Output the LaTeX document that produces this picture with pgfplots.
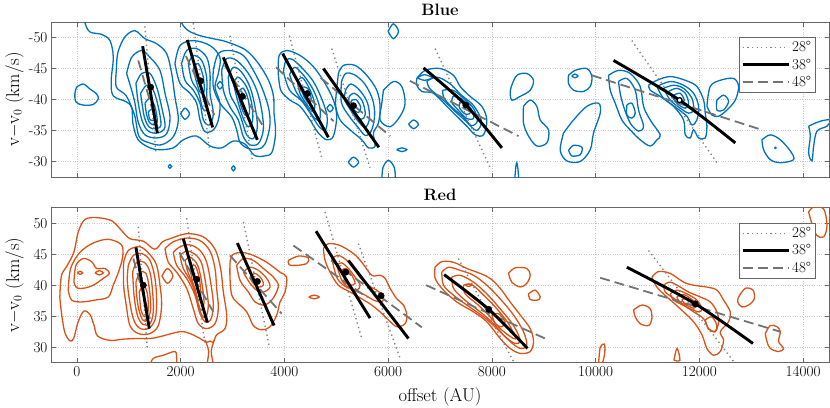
\documentclass[border=0pt]{standalone}
\usepackage{fontspec}
\usepackage{pgfplots}
\pgfplotsset{compat=1.18}
\definecolor{mblue}{rgb}{0,0.447,0.741}
\definecolor{mred}{rgb}{0.85,0.325,0.098}
\definecolor{lgray}{rgb}{0.5,0.5,0.5}
\definecolor{dgray}{rgb}{0.45,0.45,0.45}
\pgfplotsset{
  cB/.style={draw=mblue, line width=1.3pt, smooth, tension=0.55, mark=none},
  cR/.style={draw=mred, line width=1.3pt, smooth, tension=0.55, mark=none},
  dotL/.style={draw=lgray, line width=1.4pt, dash pattern=on 1.3pt off 3.3pt, mark=none},
  solL/.style={draw=black, line width=2.9pt, mark=none},
  dashL/.style={draw=dgray, line width=1.8pt, dash pattern=on 10pt off 5pt, mark=none},
  dotM/.style={only marks, mark=*, mark size=3.2pt, black},
  panel/.style={
    scale only axis, width=778pt, height=155pt,
    xmin=-500, xmax=14500, scaled x ticks=false, scaled y ticks=false,
    xtick={0,2000,4000,6000,8000,10000,12000,14000},
    grid=major, major grid style={dotted, black!22, line width=0.5pt},
    tick align=inside, xtick pos=both, ytick pos=both,
    major tick length=4.5pt, tick style={black!60, line width=0.5pt},
    axis line style={black!60, line width=0.6pt},
    tick label style={font=\fontsize{15.2}{17}\selectfont},
    label style={font=\fontsize{18.5}{20}\selectfont},
    title style={at={(axis description cs:0.5,1)}, anchor=south, yshift=-3pt, font=\bfseries\fontsize{16.5}{18}\selectfont},
    ylabel={v$-$v$_0$ (km/s)},
    ylabel style={at={(axis description cs:-0.0469,0.5)}, anchor=center},
    legend style={at={(axis description cs:0.983,0.903)}, anchor=north east, draw=black!60, fill=white, font=\fontsize{15}{18}\selectfont, cells={anchor=west}, inner sep=2.5pt, row sep=1.5pt},
    legend image code/.code={\draw[##1] (0pt,0pt) -- (46pt,0pt);},
    clip=true,
  }
}
\begin{document}
\begin{tikzpicture}
\useasboundingbox (-51pt,-230pt) rectangle (779pt,177pt);
% ================= TOP : Blue =================
\begin{axis}[panel, at={(0pt,0pt)}, anchor=south west,
  y dir=reverse, ymin=-52.5, ymax=-27.5,
  ytick={-50,-45,-40,-35,-30}, yticklabels={-50,-45,-40,-35,-30},
  xticklabels={}, title={Blue},
  legend entries={28°,38°,48°}]
\addlegendimage{dotL}
\addlegendimage{solL}
\addlegendimage{dashL}
% envelope clumps 1-3
\addplot[cB] coordinates {(154,-54) (154,-52.4) (251,-50.9) (476,-50.5) (637,-49.5) (701,-46.8) (660,-43.0) (700,-40.6) (960,-39.6) (1060,-38.6) (1080,-36.1) (1180,-33.5) (1408,-32.2) (1601,-31.9) (1858,-32.2) (2051,-33.5) (2308,-34.1) (2566,-32.5) (2791,-32.2) (3016,-33.3) (3241,-32.8) (3420,-31.0) (3620,-30.9) (3760,-31.5) (3830,-34.6) (3800,-37.8) (3790,-40.5) (3700,-43.0) (3500,-45.8) (3250,-48.0) (2887,-49.3) (2630,-49.8) (2373,-50.3) (2148,-51.1) (2019,-52.4) (2019,-54)};
% isolated left blob
\addplot[cB] coordinates {(-6,-42) (122,-42.5) (250,-41.7) (379,-40.9) (411,-40.1) (315,-39.2) (122,-39.1) (-19,-39.6) (-39,-41) (-6,-42)};
% clump 1
\addplot[cB] coordinates {(760,-44.7) (790,-47.6) (926,-50.1) (1119,-51.1) (1312,-49.8) (1537,-49.0) (1730,-47.4) (1826,-44.2) (1890,-40.4) (1955,-36.7) (1858,-34.0) (1633,-32.7) (1400,-33.0) (1200,-34.0) (1110,-37.5) (950,-40.6) (760,-42.0) (760,-44.7)};
\addplot[cB] coordinates {(958,-44.2) (1055,-46.8) (1247,-47.9) (1408,-46.8) (1601,-44.7) (1698,-41.0) (1794,-37.2) (1730,-34.5) (1537,-33.8) (1312,-34.3) (1183,-36.3) (1119,-39.4) (1055,-41.5) (958,-44.2)};
\addplot[cB] coordinates {(1138,-42.6) (1247,-44.2) (1408,-44.2) (1537,-42.0) (1633,-38.8) (1698,-35.6) (1560,-34.6) (1376,-34.9) (1260,-36.5) (1183,-39.4) (1138,-42.6)};
\addplot[cB] coordinates {(1228,-41.0) (1344,-42.3) (1472,-41.5) (1569,-38.8) (1620,-35.9) (1520,-35.3) (1400,-35.5) (1299,-37.2) (1228,-41.0)};
\addplot[cB] coordinates {(1312,-39.4) (1408,-40.2) (1505,-38.8) (1550,-36.4) (1480,-35.9) (1400,-36.3) (1344,-37.5) (1312,-39.4)};
\addplot[cB] coordinates {(1376,-38.0) (1453,-38.4) (1505,-36.9) (1455,-36.6) (1400,-36.9) (1376,-38.0)};
\addplot[cB] coordinates {(2000,-37.7) (2083,-38.6) (2170,-37.7) (2083,-36.8) (2000,-37.7)};
% clump 2
\addplot[cB] coordinates {(1890,-45.8) (1987,-48.7) (2244,-49.5) (2566,-48.7) (2758,-46.8) (2726,-44.2) (2662,-42.0) (2758,-39.4) (2726,-36.7) (2630,-35.1) (2469,-34.8) (2373,-36.7) (2308,-39.4) (2180,-41.0) (1987,-42.6) (1890,-45.8)};
\addplot[cB] coordinates {(2019,-45.8) (2115,-47.9) (2308,-48.2) (2501,-46.8) (2566,-44.2) (2566,-41.0) (2630,-37.7) (2553,-35.9) (2437,-36.7) (2373,-39.4) (2244,-41.5) (2083,-43.1) (2019,-45.8)};
\addplot[cB] coordinates {(2148,-45.8) (2244,-47.1) (2405,-46.3) (2501,-43.6) (2501,-40.4) (2501,-38.3) (2424,-38.6) (2340,-41.2) (2212,-43.1) (2148,-45.8)};
\addplot[cB] coordinates {(2244,-45.0) (2340,-45.8) (2437,-43.6) (2450,-41.2) (2373,-41.2) (2296,-43.1) (2244,-45.0)};
\addplot[cB] coordinates {(2700,-42.3) (2758,-42.9) (2815,-42.3) (2758,-41.7) (2700,-42.3)};
% clump 3
\addplot[cB] coordinates {(2630,-44.7) (2726,-47.4) (2951,-47.9) (3209,-47.1) (3401,-44.7) (3562,-42.0) (3691,-38.8) (3723,-36.1) (3659,-33.5) (3560,-32.2) (3340,-32.0) (3150,-33.0) (3080,-35.1) (2984,-37.2) (2758,-39.4) (2630,-42.0) (2630,-44.7)};
\addplot[cB] coordinates {(2791,-44.7) (2887,-46.6) (3080,-46.3) (3305,-44.2) (3466,-41.5) (3562,-38.3) (3594,-35.1) (3498,-32.9) (3337,-32.7) (3209,-34.0) (3112,-36.7) (2951,-38.8) (2823,-41.5) (2791,-44.7)};
\addplot[cB] coordinates {(2919,-43.6) (3016,-45.2) (3176,-44.4) (3337,-42.0) (3434,-38.8) (3479,-35.6) (3401,-33.7) (3273,-34.3) (3176,-36.7) (3080,-38.8) (2951,-40.9) (2919,-43.6)};
\addplot[cB] coordinates {(3016,-42.6) (3112,-43.6) (3273,-42.0) (3369,-39.4) (3389,-36.7) (3305,-35.6) (3209,-36.9) (3112,-39.4) (3016,-42.6)};
\addplot[cB] coordinates {(3112,-41.2) (3209,-41.8) (3305,-39.9) (3324,-37.7) (3241,-37.5) (3157,-39.1) (3112,-41.2)};
% clump 4
\addplot[cB] coordinates {(3880,-44.5) (3900,-47.1) (4044,-47.9) (4302,-47.1) (4559,-45.3) (4784,-42.6) (4945,-39.9) (5009,-37.3) (4945,-34.1) (4816,-33.5) (4655,-34.6) (4495,-36.7) (4302,-38.9) (4109,-39.9) (3930,-41.5) (3880,-44.5)};
\addplot[cB] coordinates {(3980,-44.5) (4030,-46.3) (4150,-46.5) (4350,-45.0) (4550,-43.0) (4700,-40.5) (4820,-37.5) (4800,-35.2) (4680,-35.5) (4520,-37.5) (4330,-39.8) (4100,-41.5) (3980,-44.5)};
\addplot[cB] coordinates {(4100,-44.0) (4200,-45.2) (4380,-43.8) (4560,-41.5) (4680,-38.8) (4680,-36.8) (4580,-37.0) (4420,-39.0) (4230,-41.2) (4100,-44.0)};
\addplot[cB] coordinates {(4250,-43.0) (4350,-43.5) (4480,-41.8) (4580,-39.5) (4560,-38.0) (4450,-39.0) (4300,-41.0) (4250,-43.0)};
\addplot[cB] coordinates {(4350,-42.0) (4450,-41.8) (4520,-40.0) (4450,-39.6) (4360,-40.8) (4350,-42.0)};
\addplot[cB] coordinates {(4820,-38.6) (4880,-39.2) (4940,-38.6) (4880,-38.0) (4820,-38.6)};
% clump 5
\addplot[cB] coordinates {(5041,-44.2) (5138,-45.5) (5363,-45.5) (5588,-43.9) (5781,-41.5) (5845,-38.9) (5813,-36.2) (5717,-34.6) (5749,-32.5) (5620,-32.2) (5492,-33.5) (5267,-35.1) (5074,-36.7) (4990,-38.9) (5000,-41.0) (5041,-44.2)};
\addplot[cB] coordinates {(5100,-42.8) (5180,-44.2) (5350,-44.0) (5550,-42.5) (5700,-40.0) (5740,-37.5) (5680,-35.0) (5560,-34.2) (5420,-35.5) (5250,-37.3) (5100,-39.5) (5100,-42.8)};
\addplot[cB] coordinates {(5180,-41.5) (5280,-42.5) (5450,-41.5) (5600,-39.5) (5640,-37.0) (5560,-35.5) (5420,-36.5) (5260,-38.5) (5160,-40.0) (5180,-41.5)};
\addplot[cB] coordinates {(5250,-40.5) (5350,-41.0) (5500,-39.8) (5560,-37.6) (5480,-36.8) (5350,-37.8) (5240,-39.2) (5250,-40.5)};
\addplot[cB] coordinates {(5290,-39.8) (5380,-40.0) (5470,-38.8) (5430,-37.9) (5320,-38.5) (5290,-39.8)};
% small blobs middle
\addplot[cB] coordinates {(6000,-51.0) (6100,-52.2) (6200,-51.0) (6100,-49.8) (6000,-51.0)};
\addplot[cB] coordinates {(5910,-41.5) (6102,-42.9) (6263,-42.1) (6327,-39.4) (6231,-37.3) (6038,-35.6) (5845,-36.7) (5878,-39.4) (5910,-41.5)};
\addplot[cB] coordinates {(6395,-36.0) (6490,-36.7) (6585,-36.0) (6490,-35.3) (6395,-36.0)};
\addplot[cB] coordinates {(6165,-31.9) (6263,-32.2) (6360,-31.9) (6263,-31.6) (6165,-31.9)};
\addplot[cB] coordinates {(5231,-29.9) (5331,-30.7) (5431,-29.9) (5331,-29.1) (5231,-29.9)};
\addplot[cB] coordinates {(5880,-27.0) (5900,-29.0) (6006,-30.2) (6120,-29.0) (6140,-27.0)};
\addplot[cB] coordinates {(1760,-29.2) (1794,-29.5) (1828,-29.2) (1794,-28.9) (1760,-29.2)};
\addplot[cB] coordinates {(2980,-28.9) (3016,-29.3) (3052,-28.9) (3016,-28.5) (2980,-28.9)};
% clump 6
\addplot[cB] coordinates {(6553,-43.4) (6713,-44.7) (7003,-45.0) (7260,-43.9) (7388,-42.1) (7581,-40.5) (7806,-38.9) (7903,-36.7) (7839,-34.3) (7678,-34.3) (7517,-35.7) (7324,-37.3) (7131,-38.9) (6874,-41.0) (6649,-41.3) (6553,-42.3) (6553,-43.4)};
\addplot[cB] coordinates {(6750,-43.0) (6950,-43.6) (7200,-42.5) (7400,-40.8) (7650,-39.0) (7800,-36.5) (7700,-35.0) (7500,-36.5) (7300,-38.0) (7050,-40.0) (6800,-41.8) (6750,-43.0)};
\addplot[cB] coordinates {(7050,-41.5) (7250,-41.5) (7450,-40.2) (7650,-38.5) (7720,-36.5) (7600,-35.8) (7450,-37.2) (7250,-38.6) (7080,-40.2) (7050,-41.5)};
\addplot[cB] coordinates {(7250,-40.5) (7400,-40.2) (7600,-38.5) (7650,-37.0) (7520,-36.9) (7350,-38.3) (7230,-39.5) (7250,-40.5)};
\addplot[cB] coordinates {(7380,-39.6) (7520,-39.3) (7600,-38.0) (7500,-37.6) (7380,-38.6) (7380,-39.6)};
\addplot[cB] coordinates {(6560,-43.5) (6700,-44.0) (6850,-43.5) (6700,-43.1) (6560,-43.5)};
% blobs between 6 and 7
\addplot[cB] coordinates {(8385,-42.3) (8482,-43.9) (8674,-44.2) (8803,-43.1) (8739,-41.5) (8546,-40.5) (8385,-39.9) (8353,-41.3) (8385,-42.3)};
\addplot[cB] coordinates {(8610,-38.9) (8739,-39.9) (8867,-38.9) (8932,-36.7) (9093,-35.1) (9060,-33.0) (8867,-32.5) (8707,-34.1) (8610,-36.2) (8610,-38.9)};
\addplot[cB] coordinates {(9382,-34.6) (9575,-36.7) (9832,-38.9) (10057,-39.4) (10089,-37.8) (9960,-34.6) (9896,-31.9) (9703,-30.0) (9446,-30.1) (9318,-31.8) (9382,-34.6)};
\addplot[cB] coordinates {(9480,-31.8) (9575,-32.6) (9736,-32.3) (9703,-31.1) (9543,-30.9) (9480,-31.8)};
\addplot[cB] coordinates {(9478,-43.9) (9606,-44.7) (9831,-45.0) (9928,-43.7) (9896,-42.1) (9767,-41.3) (9574,-41.5) (9478,-42.6) (9478,-43.9)};
\addplot[cB] coordinates {(9540,-43.8) (9600,-44.1) (9660,-43.8) (9600,-43.5) (9540,-43.8)};
\addplot[cB] coordinates {(8440,-27.0) (8460,-29.0) (8480,-29.8) (8500,-29.0) (8520,-27.0)};
% clump 7
\addplot[cB] coordinates {(10249,-43.9) (10442,-44.7) (10667,-44.2) (10860,-42.1) (10924,-38.9) (11053,-36.7) (11246,-34.3) (11182,-33.5) (11053,-32.5) (10860,-33.5) (10667,-35.1) (10507,-36.7) (10378,-39.4) (10282,-41.5) (10249,-43.9)};
\addplot[cB] coordinates {(10442,-42.9) (10603,-43.4) (10764,-41.5) (10828,-38.3) (10924,-35.7) (10828,-34.9) (10667,-36.2) (10539,-38.9) (10474,-41.0) (10442,-42.9)};
\addplot[cB] coordinates {(10603,-39.1) (10699,-39.4) (10764,-37.8) (10699,-37.0) (10603,-37.5) (10603,-39.1)};
\addplot[cB] coordinates {(11021,-42.3) (11182,-43.1) (11439,-43.7) (11728,-43.1) (11953,-42.1) (12082,-39.9) (12114,-37.8) (12146,-35.7) (12114,-33.8) (11985,-33.8) (11889,-35.1) (11825,-33.8) (11728,-34.3) (11696,-36.7) (11503,-38.9) (11246,-40.5) (11053,-41.5) (11021,-42.3)};
\addplot[cB] coordinates {(11182,-42.1) (11439,-42.9) (11696,-42.3) (11889,-41.0) (11985,-38.9) (11953,-36.7) (11857,-35.9) (11760,-37.3) (11567,-38.6) (11310,-40.2) (11182,-42.1)};
\addplot[cB] coordinates {(11310,-41.8) (11503,-42.3) (11696,-41.8) (11857,-40.2) (11889,-38.3) (11793,-37.8) (11632,-38.6) (11439,-39.9) (11310,-41.8)};
\addplot[cB] coordinates {(11407,-41.3) (11567,-41.8) (11728,-41.0) (11793,-39.4) (11728,-38.6) (11567,-39.4) (11407,-41.3)};
\addplot[cB] coordinates {(11503,-40.7) (11632,-41.0) (11709,-39.9) (11645,-39.4) (11535,-39.8) (11503,-40.7)};
\addplot[cB] coordinates {(12146,-38.9) (12210,-42.1) (12403,-43.1) (12660,-43.4) (12757,-42.1) (12693,-39.9) (12532,-38.3) (12371,-37.3) (12242,-37.5) (12146,-38.9)};
\addplot[cB] coordinates {(12339,-39.9) (12467,-40.7) (12564,-39.7) (12467,-38.3) (12339,-38.3) (12339,-39.9)};
\addplot[cB] coordinates {(13207,-33.5) (13368,-34.3) (13561,-33.5) (13754,-31.7) (13818,-30.3) (13561,-29.8) (13368,-30.3) (13239,-31.9) (13207,-33.5)};
\addplot[cB] coordinates {(13450,-32.2) (13464,-32.3) (13478,-32.2) (13464,-32.1) (13450,-32.2)};
\addplot[cB] coordinates {(14107,-35.7) (14332,-36.5) (14525,-36.7) (14461,-35.7) (14268,-34.9) (14204,-32.5) (14172,-30.1) (14107,-31.4) (14139,-34.1) (14107,-35.7)};
% lines
\addplot[dotL] coordinates {(1310,-51.8) (1525,-31.3)};
\addplot[dotL] coordinates {(2244,-52.3) (2560,-31.8)};
\addplot[dotL] coordinates {(2951,-50.3) (3380,-30.4)};
\addplot[dotL] coordinates {(4096,-50.3) (4720,-30.6)};
\addplot[dotL] coordinates {(4913,-48.2) (5652,-29.0)};
\addplot[dotL] coordinates {(6906,-48.2) (7967,-29.0)};
\addplot[dotL] coordinates {(10699,-49.5) (12339,-29.8)};
\addplot[dashL] coordinates {(1183,-46.3) (1569,-35.1)};
\addplot[dashL] coordinates {(2100,-47.0) (2650,-37.5)};
\addplot[dashL] coordinates {(2850,-45.5) (3620,-35.3)};
\addplot[dashL] coordinates {(3840,-45.2) (4950,-36.5)};
\addplot[dashL] coordinates {(4700,-43.5) (6040,-34.1)};
\addplot[dashL] coordinates {(6420,-43.0) (8514,-34.1)};
\addplot[dashL] coordinates {(9928,-43.9) (13207,-35.1)};
\addplot[solL] coordinates {(1267,-48.6) (1550,-34.6)};
\addplot[solL] coordinates {(2128,-49.6) (2617,-35.5)};
\addplot[solL] coordinates {(2823,-46.8) (3479,-33.5)};
\addplot[solL] coordinates {(3967,-47.4) (4848,-33.9)};
\addplot[solL] coordinates {(4752,-45.0) (5820,-32.3)};
\addplot[solL, smooth] coordinates {(6681,-45.1) (7498,-39.1) (8192,-32.2)};
\addplot[solL, smooth] coordinates {(10346,-46.3) (11619,-39.9) (12693,-33.0)};
\addplot[dotM] coordinates {(1421,-42.0) (2386,-43.0) (3189,-40.5) (4440,-40.95) (5331,-39.0) (7498,-39.1)};
\addplot[only marks, mark=*, mark size=2.5pt, draw=black, fill=white, line width=1.3pt] coordinates {(11619,-39.9)};
\end{axis}
% ================= BOTTOM : Red =================
\begin{axis}[panel, at={(0pt,-185.7pt)}, anchor=south west,
  ymin=27.5, ymax=52.5,
  ytick={30,35,40,45,50}, yticklabels={30,35,40,45,50},
  xticklabels={0,2000,4000,6000,8000,10000,12000,14000},
  title={Red}, xlabel={offset (AU)},
  xlabel style={at={(axis description cs:0.5,-0.2535)}, anchor=base},
  legend entries={28°,38°,48°}]
\addlegendimage{dotL}
\addlegendimage{solL}
\addlegendimage{dashL}
% big envelope
\addplot[cR] coordinates {(-330,38.0) (-300,41.5) (-200,43.0) (-60,45.3) (26,48.6) (154,50.6) (379,50.9) (669,50.4) (862,48.8) (1022,47.5) (1280,47.1) (1500,45.8) (1650,47.0) (1794,47.5) (2115,48.3) (2437,47.8) (2662,45.8) (2770,42.7) (2823,38.9) (2887,35.2) (2855,33.0) (2694,32.0) (2630,30.8) (2566,31.0) (2501,30.8) (2373,31.4) (2180,32.2) (1987,32.5) (1601,31.7) (1408,31.4) (1151,31.4) (900,31.3) (637,31.1) (400,31.8) (330,33.5) (250,35.3) (130,35.8) (20,34.0) (-60,31.5) (-130,31.0) (-230,32.3) (-290,35.0) (-330,38.0)};
\addplot[cR] coordinates {(2470,31.2) (2540,29.3) (2500,27.0)};
\addplot[cR] coordinates {(2650,31.2) (2590,29.3) (2640,27.0)};
% clump A
\addplot[cR] coordinates {(-167,39.2) (-122,42.7) (58,45.3) (315,46.8) (604,47.4) (860,46.5) (880,44.5) (800,42.1) (700,40.0) (604,38.1) (347,37.6) (90,37.3) (-103,37.6) (-167,39.2)};
\addplot[cR] coordinates {(-58,40.5) (-19,43.2) (122,44.3) (283,43.8) (379,42.7) (540,42.7) (624,41.9) (508,41.1) (315,40.0) (122,39.5) (-6,39.6) (-58,40.5)};
\addplot[cR] coordinates {(10,42.0) (60,42.25) (110,42.0) (60,41.75) (10,42.0)};
\addplot[cR] coordinates {(350,42.0) (430,42.35) (510,42.0) (430,41.65) (350,42.0)};
% clump B
\addplot[cR] coordinates {(900,43.7) (990,45.6) (1215,46.2) (1400,45.0) (1537,43.2) (1601,40.0) (1633,36.8) (1569,33.5) (1408,32.2) (1183,32.2) (1022,33.5) (950,36.8) (900,40.0) (900,43.7)};
\addplot[cR] coordinates {(990,43.2) (1087,44.8) (1247,45.1) (1408,44.0) (1505,41.1) (1537,37.3) (1505,34.4) (1376,33.0) (1202,33.1) (1087,34.6) (1009,37.8) (971,40.8) (990,43.2)};
\addplot[cR] coordinates {(1074,42.1) (1151,43.7) (1299,43.7) (1408,42.1) (1460,38.9) (1472,35.7) (1408,33.8) (1267,33.7) (1164,35.2) (1100,38.4) (1074,42.1)};
\addplot[cR] coordinates {(1138,40.5) (1215,42.1) (1331,41.9) (1395,39.5) (1421,36.2) (1357,34.4) (1267,34.4) (1190,36.2) (1151,38.4) (1138,40.5)};
\addplot[cR] coordinates {(1202,38.9) (1280,40.0) (1357,38.7) (1376,36.0) (1312,34.9) (1235,36.0) (1202,38.9)};
\addplot[cR] coordinates {(1640,41.5) (1745,42.7) (1850,41.5) (1745,40.3) (1640,41.5)};
% clump C
\addplot[cR] coordinates {(1698,45.9) (1858,47.0) (2115,47.6) (2373,47.2) (2566,45.5) (2662,42.7) (2694,39.5) (2726,36.2) (2662,33.8) (2501,33.0) (2340,33.8) (2244,36.2) (2115,39.5) (1923,42.1) (1762,43.7) (1698,45.9)};
\addplot[cR] coordinates {(1858,45.3) (1987,46.2) (2180,46.5) (2373,45.6) (2501,43.7) (2578,40.5) (2630,36.8) (2578,34.4) (2469,34.1) (2360,35.7) (2276,38.4) (2115,41.1) (1923,43.2) (1858,45.3)};
\addplot[cR] coordinates {(1987,44.8) (2115,45.5) (2276,45.0) (2405,43.5) (2488,40.0) (2533,36.8) (2488,34.9) (2405,35.2) (2328,37.3) (2212,40.3) (2051,42.7) (1987,44.8)};
\addplot[cR] coordinates {(2083,44.0) (2193,44.5) (2328,43.2) (2405,40.5) (2450,37.3) (2405,36.0) (2340,36.8) (2276,39.5) (2148,41.9) (2083,44.0)};
\addplot[cR] coordinates {(2180,42.7) (2276,43.2) (2360,41.1) (2386,38.4) (2340,37.6) (2257,39.5) (2180,42.7)};
\addplot[cR] coordinates {(1408,27.0) (1472,28.2) (1665,28.7) (1890,29.3) (1923,28.2) (1923,27.0)};
% clump D
\addplot[cR] coordinates {(2951,43.7) (3003,44.9) (3176,45.3) (3401,44.8) (3659,43.7) (3916,42.1) (4044,41.3) (4012,38.9) (3916,37.3) (3852,35.2) (3723,33.3) (3562,32.8) (3401,33.5) (3273,35.7) (3080,37.3) (2984,38.4) (2951,41.1) (2951,43.7)};
\addplot[cR] coordinates {(3080,43.2) (3209,44.3) (3401,44.0) (3594,42.7) (3787,41.3) (3884,40.0) (3819,38.4) (3723,37.3) (3594,36.8) (3434,37.3) (3305,38.9) (3144,40.8) (3080,43.2)};
\addplot[cR] coordinates {(3209,42.1) (3337,42.9) (3498,42.4) (3659,41.1) (3723,39.7) (3594,38.9) (3466,39.2) (3337,40.3) (3209,42.1)};
\addplot[cR] coordinates {(3337,41.3) (3434,41.9) (3562,41.0) (3594,40.0) (3498,39.7) (3389,40.4) (3337,41.3)};
\addplot[cR] coordinates {(4077,44.0) (4270,44.7) (4463,44.4) (4431,43.5) (4238,43.2) (4090,43.3) (4077,44.0)};
\addplot[cR] coordinates {(4470,38.1) (4570,38.4) (4670,38.1) (4570,37.8) (4470,38.1)};
% clump E
\addplot[cR] coordinates {(4752,45.9) (4849,46.7) (5074,46.4) (5331,45.1) (5492,43.7) (5684,41.6) (5845,41.6) (5942,41.1) (6038,39.5) (6167,37.8) (6295,36.8) (6360,35.2) (6327,33.8) (6167,33.3) (6006,34.4) (5845,35.7) (5684,36.8) (5492,37.8) (5267,38.9) (5041,40.0) (4881,42.1) (4784,44.0) (4752,45.9)};
\addplot[cR] coordinates {(4913,44.3) (5041,44.8) (5202,44.0) (5331,42.7) (5459,41.3) (5620,39.9) (5781,39.2) (5910,38.1) (5877,37.3) (5717,37.6) (5556,38.4) (5331,39.2) (5138,40.0) (5009,41.3) (4913,44.3)};
\addplot[cR] coordinates {(5009,43.2) (5106,43.6) (5234,42.7) (5363,41.3) (5459,40.0) (5395,39.2) (5234,39.7) (5106,40.8) (5009,43.2)};
\addplot[cR] coordinates {(5106,42.4) (5189,42.7) (5299,41.6) (5363,40.3) (5267,40.0) (5170,40.8) (5106,42.4)};
% clump F
\addplot[cR] coordinates {(6906,42.9) (7035,43.8) (7260,43.7) (7517,42.7) (7774,41.9) (7967,41.1) (8160,39.5) (8353,37.3) (8546,35.2) (8739,33.0) (8803,30.9) (8739,29.3) (8546,29.0) (8353,29.8) (8160,31.4) (7903,34.1) (7646,35.7) (7324,37.3) (7067,39.2) (6906,41.1) (6906,42.9)};
\addplot[cR] coordinates {(7035,42.1) (7163,42.9) (7388,42.4) (7646,41.6) (7903,40.0) (8160,37.8) (8417,35.2) (8610,32.5) (8674,30.3) (8546,29.8) (8353,30.9) (8096,33.0) (7839,34.9) (7517,36.8) (7260,38.4) (7067,40.0) (7035,42.1)};
\addplot[cR] coordinates {(7228,41.3) (7388,41.6) (7646,40.5) (7903,38.6) (8160,36.2) (8417,33.5) (8546,31.1) (8449,30.6) (8256,31.7) (8031,33.8) (7774,35.7) (7453,37.8) (7260,39.5) (7228,41.3)};
\addplot[cR] coordinates {(7453,40.0) (7613,40.1) (7839,38.4) (8096,36.2) (8321,33.8) (8449,31.7) (8417,31.4) (8160,33.0) (7935,35.2) (7710,37.0) (7485,38.6) (7453,40.0)};
\addplot[cR] coordinates {(8000,35.2) (8128,35.4) (8256,34.1) (8192,33.3) (8064,33.8) (8000,35.2)};
\addplot[cR] coordinates {(7490,40.0) (7550,40.2) (7610,40.0) (7550,39.8) (7490,40.0)};
\addplot[cR] coordinates {(8321,41.9) (8449,42.8) (8674,42.7) (8739,41.6) (8674,40.3) (8546,39.7) (8385,40.5) (8321,41.9)};
\addplot[cR] coordinates {(8707,38.6) (8835,39.2) (8932,38.1) (8880,37.6) (8739,37.7) (8707,38.6)};
% clump G
\addplot[cR] coordinates {(11085,41.3) (11214,42.2) (11439,41.9) (11696,40.5) (11889,40.0) (12146,39.7) (12339,39.2) (12468,37.6) (12596,35.7) (12564,34.1) (12403,32.5) (12468,31.1) (12403,29.3) (12275,28.7) (12146,29.8) (12050,32.0) (11889,34.1) (11632,36.2) (11375,38.1) (11182,39.7) (11085,41.3)};
\addplot[cR] coordinates {(11310,40.0) (11439,40.5) (11632,39.7) (11793,38.9) (12018,38.1) (12211,37.3) (12339,35.7) (12371,34.1) (12307,32.5) (12178,33.0) (12082,34.6) (11889,35.7) (11696,36.8) (11471,38.1) (11343,38.9) (11310,40.0)};
\addplot[cR] coordinates {(11439,38.6) (11567,39.2) (11760,38.6) (11953,37.6) (12050,36.2) (11985,35.7) (11825,36.2) (11632,37.0) (11503,37.6) (11439,38.6)};
\addplot[cR] coordinates {(11567,38.1) (11696,38.5) (11857,37.7) (11953,36.8) (11889,36.3) (11748,36.8) (11619,37.3) (11567,38.1)};
\addplot[cR] coordinates {(11664,37.7) (11760,37.9) (11857,37.3) (11825,36.9) (11709,37.1) (11664,37.7)};
\addplot[cR] coordinates {(12114,34.4) (12243,34.9) (12339,33.5) (12307,32.6) (12178,32.9) (12114,34.4)};
\addplot[cR] coordinates {(10732,36.0) (10893,36.8) (11053,36.2) (11085,34.6) (11021,33.5) (10860,33.8) (10764,34.9) (10732,36.0)};
\addplot[cR] coordinates {(12757,38.1) (12886,39.5) (13034,39.2) (13060,37.8) (12950,36.8) (12821,36.5) (12738,37.3) (12757,38.1)};
\addplot[cR] coordinates {(13271,32.2) (13368,33.5) (13497,33.3) (13561,32.5) (13529,30.9) (13625,29.8) (13529,29.3) (13368,29.8) (13304,30.9) (13271,32.2)};
\addplot[cR] coordinates {(10060,27.6) (10090,30.0) (10170,30.5) (10175,29.0) (10130,27.5) (10060,27.6)};
\addplot[cR] coordinates {(11510,27.9) (11570,29.8) (11625,27.9) (11510,27.9)};
\addplot[cR] coordinates {(14107,51.8) (14204,52.6) (14397,52.3) (14461,49.6) (14397,47.8) (14268,48.0) (14172,49.9) (14107,51.8)};
% lines
\addplot[dotL] coordinates {(1183,49.4) (1357,29.8)};
\addplot[dotL] coordinates {(2115,50.8) (2469,30.6)};
\addplot[dotL] coordinates {(3209,50.2) (3710,30.1)};
\addplot[dotL] coordinates {(4784,51.8) (5492,31.4)};
\addplot[dotL] coordinates {(5427,46.7) (6231,28.2)};
\addplot[dotL] coordinates {(7356,44.3) (8417,27.7)};
\addplot[dotL] coordinates {(11021,45.6) (12661,27.7)};
\addplot[dashL] coordinates {(1087,44.3) (1408,34.6)};
\addplot[dashL] coordinates {(1974,45.3) (2630,35.7)};
\addplot[dashL] coordinates {(2951,44.8) (3948,35.4)};
\addplot[dashL] coordinates {(4173,46.4) (5600,38.0)};
\addplot[dashL] coordinates {(4900,44.0) (6650,33.2)};
\addplot[dashL] coordinates {(6733,40.0) (9028,31.4)};
\addplot[dashL] coordinates {(10089,41.2) (13561,32.5)};
\addplot[solL] coordinates {(1138,46.1) (1395,33.0)};
\addplot[solL] coordinates {(2051,47.5) (2514,34.0)};
\addplot[solL] coordinates {(3093,46.8) (3800,33.5)};
\addplot[solL] coordinates {(4611,48.7) (5652,34.7)};
\addplot[solL] coordinates {(5234,44.0) (6392,31.4)};
\addplot[solL, smooth] coordinates {(7080,41.7) (7941,36.1) (8687,29.8)};
\addplot[solL, smooth] coordinates {(10603,42.9) (11921,37.0) (13034,30.6)};
\addplot[dotM] coordinates {(1280,40.0) (2308,40.95) (3479,40.6) (5183,42.1) (5864,38.3) (7941,36.1) (11921,37.0)};
\end{axis}
\end{tikzpicture}
\end{document}
